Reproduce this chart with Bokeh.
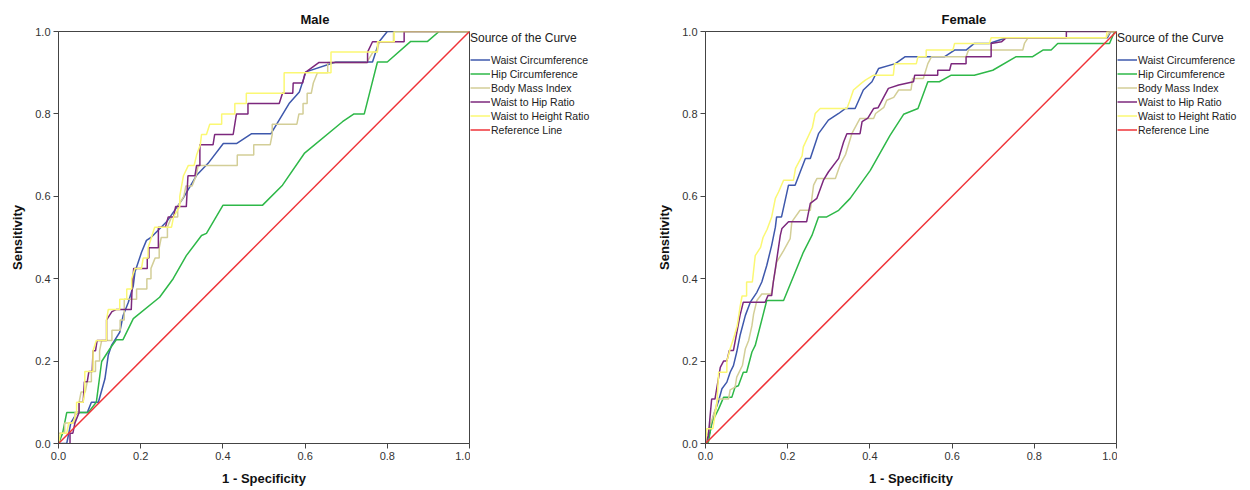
from bokeh.plotting import figure
from bokeh.models import Range1d, FixedTicker, Legend, LegendItem, NumeralTickFormatter
from bokeh.layouts import row
from bokeh.embed import file_html
from bokeh.resources import INLINE

# ---------------- data ----------------
series_names = ["Waist Circumference", "Hip Circumference", "Body Mass Index",
                "Waist to Hip Ratio", "Waist to Height Ratio", "Reference Line"]
series_colors = ["#3E58AC", "#2EB848", "#D3CE97", "#7C287D", "#FBF873", "#EF3338"]
tick_values = [0.0, 0.2, 0.4, 0.6, 0.8, 1.0]
legend_title = "Source of the Curve"

# Male
male_wc_x = [0, 0.02, 0.03, 0.045, 0.07, 0.08, 0.097, 0.113, 0.121, 0.129, 0.149, 0.157, 0.17, 0.182, 0.186, 0.202, 0.214, 0.225, 0.263, 0.303, 0.336, 0.364, 0.401, 0.433, 0.47, 0.517, 0.561, 0.586, 0.602, 0.675, 0.764, 0.78, 0.8, 1.0]
male_wc_y = [0, 0, 0.05, 0.075, 0.075, 0.1, 0.1, 0.157, 0.214, 0.238, 0.27, 0.31, 0.343, 0.383, 0.416, 0.464, 0.493, 0.5, 0.538, 0.595, 0.651, 0.68, 0.728, 0.728, 0.752, 0.752, 0.825, 0.853, 0.902, 0.926, 0.926, 0.975, 1.0, 1.0]

male_hc_x = [0, 0.01, 0.02, 0.072, 0.092, 0.105, 0.125, 0.141, 0.157, 0.182, 0.246, 0.279, 0.311, 0.348, 0.36, 0.4, 0.496, 0.545, 0.598, 0.691, 0.719, 0.744, 0.776, 0.8, 0.857, 0.898, 0.926, 1.0]
male_hc_y = [0, 0.025, 0.075, 0.075, 0.1, 0.199, 0.23, 0.252, 0.252, 0.303, 0.355, 0.4, 0.456, 0.505, 0.51, 0.578, 0.578, 0.627, 0.704, 0.781, 0.8, 0.8, 0.926, 0.926, 0.976, 0.976, 1.0, 1.0]

male_bmi_x = [0, 0, 0.015, 0.015, 0.04, 0.04, 0.05, 0.05, 0.055, 0.065, 0.07, 0.08, 0.08, 0.09, 0.09, 0.1, 0.1, 0.105, 0.13, 0.13, 0.15, 0.15, 0.16, 0.16, 0.19, 0.19, 0.215, 0.215, 0.225, 0.225, 0.235, 0.245, 0.245, 0.25, 0.265, 0.265, 0.275, 0.29, 0.29, 0.305, 0.31, 0.325, 0.335, 0.34, 0.435, 0.435, 0.475, 0.475, 0.515, 0.52, 0.52, 0.58, 0.585, 0.595, 0.595, 0.605, 0.605, 0.615, 0.62, 0.63, 0.655, 0.655, 0.75, 0.765, 0.775, 0.78, 0.815, 0.815, 1.0]
male_bmi_y = [0, 0.025, 0.025, 0.05, 0.05, 0.075, 0.075, 0.1, 0.125, 0.125, 0.15, 0.15, 0.175, 0.175, 0.2, 0.2, 0.225, 0.25, 0.25, 0.275, 0.275, 0.3, 0.3, 0.35, 0.35, 0.375, 0.375, 0.4, 0.4, 0.425, 0.45, 0.45, 0.475, 0.5, 0.5, 0.525, 0.55, 0.55, 0.575, 0.6, 0.625, 0.625, 0.65, 0.675, 0.675, 0.7, 0.7, 0.725, 0.725, 0.75, 0.775, 0.775, 0.8, 0.8, 0.825, 0.825, 0.85, 0.85, 0.875, 0.9, 0.9, 0.925, 0.925, 0.95, 0.95, 0.975, 0.975, 1.0, 1.0]

male_whr_x = [0.028, 0.028, 0.035, 0.04, 0.05, 0.05, 0.06, 0.063, 0.07, 0.074, 0.082, 0.084, 0.09, 0.094, 0.117, 0.117, 0.13, 0.14, 0.177, 0.179, 0.183, 0.216, 0.216, 0.22, 0.22, 0.243, 0.243, 0.26, 0.267, 0.28, 0.285, 0.311, 0.315, 0.332, 0.336, 0.344, 0.344, 0.376, 0.38, 0.425, 0.429, 0.433, 0.461, 0.461, 0.537, 0.545, 0.57, 0.571, 0.594, 0.6, 0.634, 0.752, 0.752, 0.764, 0.841, 0.841, 1.0]
male_whr_y = [0, 0.025, 0.025, 0.05, 0.075, 0.1, 0.1, 0.15, 0.15, 0.175, 0.175, 0.225, 0.225, 0.25, 0.25, 0.3, 0.32, 0.325, 0.325, 0.375, 0.425, 0.425, 0.45, 0.45, 0.475, 0.475, 0.525, 0.525, 0.55, 0.55, 0.575, 0.575, 0.65, 0.65, 0.675, 0.675, 0.725, 0.725, 0.75, 0.75, 0.775, 0.8, 0.8, 0.825, 0.825, 0.85, 0.85, 0.875, 0.875, 0.9, 0.925, 0.925, 0.95, 0.975, 0.975, 1.0, 1.0]

male_whtr_x = [0, 0.005, 0.02, 0.025, 0.035, 0.044, 0.044, 0.06, 0.064, 0.064, 0.084, 0.084, 0.092, 0.117, 0.117, 0.121, 0.149, 0.149, 0.166, 0.166, 0.178, 0.178, 0.186, 0.202, 0.206, 0.218, 0.218, 0.226, 0.234, 0.275, 0.28, 0.295, 0.295, 0.304, 0.316, 0.33, 0.336, 0.345, 0.348, 0.36, 0.368, 0.397, 0.397, 0.429, 0.429, 0.457, 0.457, 0.549, 0.549, 0.663, 0.663, 0.776, 0.776, 0.817, 0.817, 1.0]
male_whtr_y = [0, 0.025, 0.025, 0.05, 0.05, 0.075, 0.1, 0.1, 0.125, 0.175, 0.175, 0.225, 0.25, 0.25, 0.3, 0.325, 0.325, 0.35, 0.35, 0.375, 0.375, 0.4, 0.425, 0.425, 0.45, 0.45, 0.475, 0.5, 0.525, 0.525, 0.55, 0.575, 0.6, 0.65, 0.675, 0.675, 0.7, 0.725, 0.75, 0.75, 0.775, 0.775, 0.8, 0.8, 0.825, 0.825, 0.85, 0.85, 0.9, 0.9, 0.95, 0.95, 0.975, 0.975, 1.0, 1.0]

# Female
female_wc_x = [0, 0.011, 0.02, 0.032, 0.04, 0.052, 0.06, 0.068, 0.076, 0.084, 0.097, 0.109, 0.125, 0.137, 0.149, 0.161, 0.17, 0.173, 0.185, 0.202, 0.218, 0.243, 0.255, 0.275, 0.299, 0.324, 0.34, 0.364, 0.384, 0.405, 0.421, 0.462, 0.486, 0.582, 0.606, 0.634, 0.654, 0.69, 0.732, 0.978, 0.986, 1.0]
female_wc_y = [0, 0.027, 0.07, 0.104, 0.133, 0.149, 0.173, 0.189, 0.222, 0.262, 0.311, 0.343, 0.367, 0.392, 0.432, 0.481, 0.525, 0.55, 0.55, 0.627, 0.627, 0.692, 0.692, 0.752, 0.785, 0.801, 0.813, 0.813, 0.858, 0.878, 0.91, 0.922, 0.939, 0.939, 0.955, 0.955, 0.971, 0.971, 0.985, 0.985, 1.0, 1.0]

female_hc_x = [0, 0.007, 0.015, 0.032, 0.044, 0.064, 0.072, 0.08, 0.092, 0.1, 0.113, 0.121, 0.149, 0.19, 0.238, 0.259, 0.275, 0.295, 0.324, 0.352, 0.401, 0.449, 0.482, 0.517, 0.541, 0.569, 0.598, 0.654, 0.699, 0.756, 0.796, 0.821, 0.841, 0.857, 0.983, 0.995, 1.0]
female_hc_y = [0, 0.003, 0.05, 0.084, 0.112, 0.112, 0.137, 0.14, 0.173, 0.173, 0.222, 0.238, 0.347, 0.347, 0.464, 0.505, 0.55, 0.55, 0.566, 0.595, 0.663, 0.748, 0.799, 0.813, 0.878, 0.878, 0.894, 0.894, 0.906, 0.939, 0.939, 0.955, 0.955, 0.971, 0.971, 0.999, 1.0]

female_bmi_x = [0, 0.01, 0.024, 0.03, 0.056, 0.06, 0.072, 0.076, 0.09, 0.097, 0.105, 0.113, 0.117, 0.125, 0.137, 0.16, 0.165, 0.173, 0.19, 0.206, 0.21, 0.23, 0.255, 0.263, 0.271, 0.316, 0.328, 0.341, 0.356, 0.376, 0.409, 0.414, 0.434, 0.441, 0.458, 0.47, 0.5, 0.504, 0.53, 0.541, 0.55, 0.634, 0.64, 0.772, 0.776, 0.785, 0.975, 0.985, 1.0]
female_bmi_y = [0, 0.04, 0.084, 0.108, 0.108, 0.13, 0.137, 0.161, 0.19, 0.23, 0.25, 0.286, 0.314, 0.347, 0.363, 0.363, 0.392, 0.44, 0.468, 0.497, 0.538, 0.566, 0.566, 0.627, 0.643, 0.643, 0.678, 0.702, 0.752, 0.789, 0.789, 0.801, 0.816, 0.833, 0.84, 0.858, 0.858, 0.886, 0.886, 0.922, 0.939, 0.939, 0.955, 0.955, 0.971, 0.985, 0.985, 1.0, 1.0]

female_whr_x = [0, 0.007, 0.011, 0.015, 0.023, 0.036, 0.044, 0.052, 0.058, 0.068, 0.084, 0.092, 0.145, 0.152, 0.161, 0.165, 0.17, 0.182, 0.186, 0.202, 0.246, 0.255, 0.271, 0.287, 0.299, 0.324, 0.336, 0.344, 0.376, 0.381, 0.395, 0.409, 0.42, 0.445, 0.47, 0.506, 0.509, 0.565, 0.565, 0.594, 0.598, 0.634, 0.634, 0.695, 0.695, 0.72, 0.732, 0.878, 0.878, 1.0]
female_whr_y = [0, 0.019, 0.064, 0.108, 0.108, 0.185, 0.2, 0.2, 0.226, 0.226, 0.311, 0.343, 0.343, 0.359, 0.359, 0.392, 0.424, 0.505, 0.522, 0.538, 0.538, 0.583, 0.595, 0.639, 0.659, 0.692, 0.732, 0.752, 0.752, 0.781, 0.79, 0.813, 0.815, 0.862, 0.87, 0.878, 0.894, 0.894, 0.906, 0.906, 0.922, 0.922, 0.939, 0.939, 0.971, 0.975, 0.985, 0.985, 1.0, 1.0]

female_whtr_x = [0, 0.003, 0.018, 0.028, 0.032, 0.052, 0.052, 0.06, 0.068, 0.077, 0.084, 0.089, 0.1, 0.1, 0.114, 0.121, 0.134, 0.14, 0.15, 0.161, 0.17, 0.178, 0.19, 0.214, 0.219, 0.235, 0.238, 0.26, 0.267, 0.279, 0.344, 0.35, 0.36, 0.381, 0.389, 0.409, 0.457, 0.46, 0.513, 0.517, 0.537, 0.537, 0.602, 0.606, 0.691, 0.695, 0.975, 0.977, 1.0]
female_whtr_y = [0, 0.036, 0.036, 0.1, 0.173, 0.173, 0.2, 0.23, 0.254, 0.285, 0.331, 0.358, 0.358, 0.392, 0.392, 0.456, 0.476, 0.5, 0.52, 0.55, 0.595, 0.611, 0.639, 0.639, 0.668, 0.698, 0.72, 0.767, 0.801, 0.813, 0.813, 0.829, 0.858, 0.876, 0.882, 0.894, 0.894, 0.922, 0.922, 0.939, 0.939, 0.955, 0.955, 0.971, 0.971, 0.985, 0.985, 1.0, 1.0]

ref_x = [0, 1]
ref_y = [0, 1]

male_curves = [(male_wc_x, male_wc_y), (male_hc_x, male_hc_y), (male_bmi_x, male_bmi_y),
               (male_whr_x, male_whr_y), (male_whtr_x, male_whtr_y), (ref_x, ref_y)]
female_curves = [(female_wc_x, female_wc_y), (female_hc_x, female_hc_y), (female_bmi_x, female_bmi_y),
                 (female_whr_x, female_whr_y), (female_whtr_x, female_whtr_y), (ref_x, ref_y)]

FONT = "Liberation Sans"
H = 488


def make_panel(title, curves, title_offset):
    p = figure(width=58 + 411 + 1, height=H,
               x_range=Range1d(0, 1), y_range=Range1d(0, 1),
               output_backend="svg", toolbar_location=None,
               min_border_left=58, min_border_right=1,
               min_border_top=31, min_border_bottom=45)
    p.background_fill_color = "white"
    p.border_fill_color = "white"
    p.outline_line_color = "#444444"
    p.outline_line_width = 1
    p.xgrid.visible = False
    p.ygrid.visible = False

    p.title.text = title
    p.title.text_font = FONT
    p.title.text_font_size = "13px"
    p.title.text_font_style = "bold"
    p.title.text_color = "#111111"
    p.title.align = "left"
    p.title.offset = title_offset
    p.title.standoff = 9

    for ax in (p.xaxis[0], p.yaxis[0]):
        ax.ticker = FixedTicker(ticks=tick_values)
        ax.formatter = NumeralTickFormatter(format="0.0")
        ax.major_tick_out = 5
        ax.major_tick_in = 0
        ax.minor_tick_out = 0
        ax.minor_tick_in = 0
        ax.axis_line_color = "#444444"
        ax.major_tick_line_color = "#444444"
        ax.major_label_text_font = FONT
        ax.major_label_text_font_size = "11px"
        ax.major_label_text_color = "#333333"
        ax.major_label_standoff = 3
        ax.axis_label_text_font = FONT
        ax.axis_label_text_font_size = "13px"
        ax.axis_label_text_font_style = "bold"
        ax.axis_label_text_color = "#111111"
    p.xaxis.axis_label = "1 - Specificity"
    p.yaxis.axis_label = "Sensitivity"
    p.xaxis.axis_label_standoff = 8
    p.yaxis.axis_label_standoff = 7

    for (xs, ys), color in zip(curves, series_colors):
        p.line(xs, ys, line_color=color, line_width=1.5)
    return p


def make_legend(width):
    lf = figure(width=width, height=H, x_range=Range1d(0, 1), y_range=Range1d(0, 1),
                x_axis_type=None, y_axis_type=None,
                output_backend="svg", toolbar_location=None,
                min_border_left=0, min_border_right=0,
                min_border_top=31, min_border_bottom=45)
    lf.outline_line_color = None
    lf.xgrid.visible = False
    lf.ygrid.visible = False
    lf.background_fill_color = "white"
    lf.border_fill_color = "white"
    items = []
    for name, color in zip(series_names, series_colors):
        # one off-range point: nothing is drawn in the frame, only the legend swatch
        r = lf.line([-1], [-1], line_color=color, line_width=1.5)
        items.append(LegendItem(label=name, renderers=[r]))
    legend = Legend(items=items, location="top_left",
                    title=legend_title,
                    title_text_font=FONT, title_text_font_size="12px",
                    title_text_font_style="normal", title_text_color="#222222",
                    title_standoff=8,
                    label_text_font=FONT, label_text_font_size="10.5px",
                    label_text_color="#222222",
                    glyph_width=20, glyph_height=13, label_height=13,
                    spacing=1, label_standoff=1, padding=5, margin=0,
                    border_line_color=None, background_fill_alpha=0)
    lf.add_layout(legend, "center")
    return lf


p1 = make_panel("Male", male_curves, 242)
l1 = make_legend(705 - 58 - 470)
p2 = make_panel("Female", female_curves, 236)
l2 = make_legend(1250 - 1117 - 1)

layout = row(p1, l1, p2, l2)
open("out.html", "w").write(file_html(layout, INLINE))
